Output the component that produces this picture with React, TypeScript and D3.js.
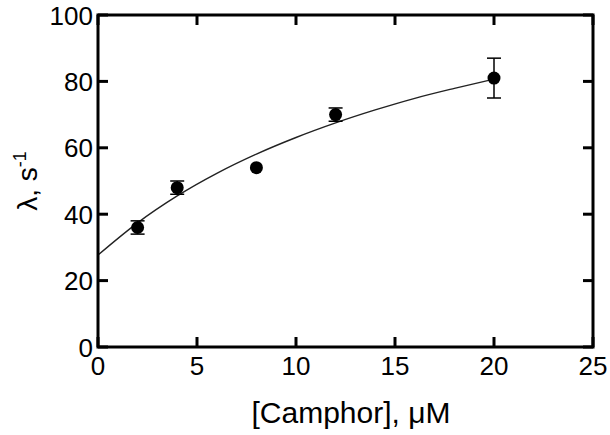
import React from "react";
import * as d3 from "d3";

// measured points
const camphor = [2, 4, 8, 12, 20];
const rate = [36, 48, 54, 70, 81];
const rateErr = [2, 2, 0, 2, 6];

// fitted curve
const fitX = [0, 2, 4, 6, 8, 10, 12, 14, 16, 18, 20];
const fitY = [27.7, 37.4, 45.5, 52.3, 58.1, 63.1, 67.5, 71.4, 74.9, 77.9, 80.7];

const xTicks = [0, 5, 10, 15, 20, 25];
const yTicks = [0, 20, 40, 60, 80, 100];

const font = "'Liberation Sans', Arial, Helvetica, sans-serif";

const App = () => {
  const width = 610;
  const height = 435;
  const left = 98;
  const right = 593;
  const top = 15;
  const bottom = 347;
  const tickLen = 10;

  const x = d3.scaleLinear().domain([0, 25]).range([left, right]);
  const y = d3.scaleLinear().domain([0, 100]).range([bottom, top]);

  const fitLine = d3
    .line<number>()
    .x((d, i) => x(fitX[i]))
    .y((d) => y(d))
    .curve(d3.curveMonotoneX);

  return (
    <svg
      width={width}
      height={height}
      style={{ position: "absolute", left: 0, top: 0, background: "#fff" }}
    >
      <path d={fitLine(fitY) || ""} fill="none" stroke="#222" strokeWidth={1.4} />

      {camphor.map((c, i) => {
        const cx = x(c);
        const hi = y(rate[i] + rateErr[i]);
        const lo = y(rate[i] - rateErr[i]);
        return (
          <g key={i}>
            {rateErr[i] > 0 && (
              <g>
                <line x1={cx} x2={cx} y1={hi} y2={lo} stroke="#000" strokeWidth={1.5} />
                <line x1={cx - 7} x2={cx + 7} y1={hi} y2={hi} stroke="#000" strokeWidth={1.5} />
                <line x1={cx - 7} x2={cx + 7} y1={lo} y2={lo} stroke="#000" strokeWidth={1.5} />
              </g>
            )}
            <circle cx={cx} cy={y(rate[i])} r={6.5} fill="#000" />
          </g>
        );
      })}

      <rect
        x={left}
        y={top}
        width={right - left}
        height={bottom - top}
        fill="none"
        stroke="#000"
        strokeWidth={3}
      />

      {xTicks.map((t) => (
        <g key={"x" + t}>
          <line x1={x(t)} x2={x(t)} y1={bottom} y2={bottom - tickLen} stroke="#000" strokeWidth={3} />
          <line x1={x(t)} x2={x(t)} y1={top} y2={top + tickLen} stroke="#000" strokeWidth={3} />
          <text
            x={x(t)}
            y={375}
            textAnchor="middle"
            fontFamily={font}
            fontSize={26}
            fill="#000"
          >
            {t}
          </text>
        </g>
      ))}

      {yTicks.map((t) => (
        <g key={"y" + t}>
          <line x1={left} x2={left + tickLen} y1={y(t)} y2={y(t)} stroke="#000" strokeWidth={3} />
          <line x1={right} x2={right - tickLen} y1={y(t)} y2={y(t)} stroke="#000" strokeWidth={3} />
          <text
            x={93}
            y={y(t) + 9.5}
            textAnchor="end"
            fontFamily={font}
            fontSize={26}
            fill="#000"
          >
            {t}
          </text>
        </g>
      ))}

      <text
        x={351}
        y={423}
        textAnchor="middle"
        fontFamily={font}
        fontSize={30}
        fill="#000"
      >
        [Camphor], μM
      </text>

      <text
        transform="translate(37,181) rotate(-90)"
        textAnchor="middle"
        fontFamily={font}
        fontSize={28}
        fill="#000"
      >
        λ, s
        <tspan fontSize={18} dy={-11}>
          -1
        </tspan>
      </text>
    </svg>
  );
};

export default App;
